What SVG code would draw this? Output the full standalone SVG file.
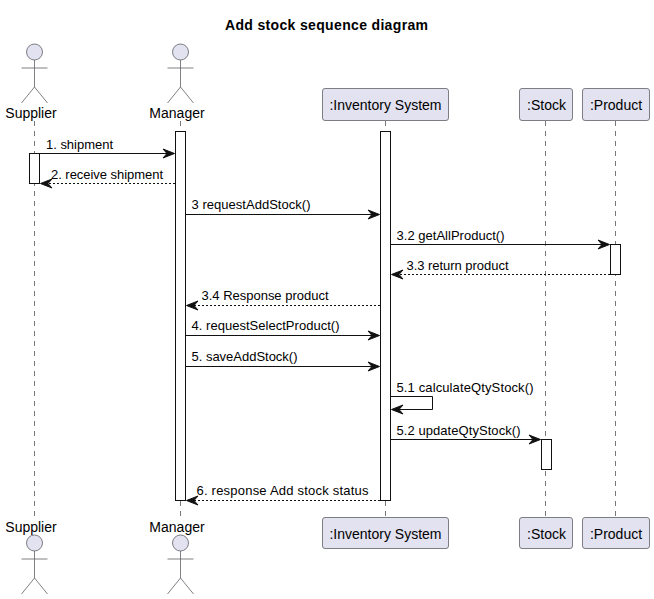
<svg xmlns="http://www.w3.org/2000/svg" width="654" height="599" viewBox="0 0 654 599">
<style>
text{font-family:"Liberation Sans",Arial,sans-serif;font-size:13px;fill:#000}
.pl{font-size:14px}
.title{font-size:14px;font-weight:bold}
.box{fill:#E2E2F0;stroke:#5F5F66;stroke-width:.8}
.head{fill:#E2E2F0;stroke:#5F5F66;stroke-width:.8}
.body{fill:none;stroke:#5F5F66;stroke-width:.8}
.life{stroke:#555;stroke-width:.8;stroke-dasharray:5 5;fill:none}
.act{fill:#fff;stroke:#111;stroke-width:1}
.msg{stroke:#111;stroke-width:1;fill:none}
.dash{stroke-dasharray:2 2}
.tip{fill:#111;stroke:#111;stroke-width:1}
</style>
<defs>
<g id="actor"><circle class="head" cx="0" cy="8" r="8"/><path class="body" d="M0 16V43M-13 24H13M0 43L-13 59M0 43L13 59"/></g>
</defs>
<rect width="654" height="599" fill="#fff"/>
<text class="title" x="225" y="30" textLength="203">Add stock sequence diagram</text>
<g id="lifelines">
<path class="life" d="M34.500 121V518"/>
<path class="life" d="M180.500 121V518"/>
<path class="life" d="M385.500 121V518"/>
<path class="life" d="M545.500 121V518"/>
<path class="life" d="M615.500 121V518"/>
</g>
<g id="node-supplier">
<use href="#actor" x="34.500" y="44"/>
<text class="pl" x="31" y="118" text-anchor="middle">Supplier</text>
<text class="pl" x="31" y="532" text-anchor="middle">Supplier</text>
<use href="#actor" x="34.500" y="535"/>
<rect class="act" x="29.500" y="153.500" width="10" height="30"/>
</g>
<g id="node-manager">
<use href="#actor" x="180.500" y="44"/>
<text class="pl" x="177" y="118" text-anchor="middle">Manager</text>
<text class="pl" x="177" y="532" text-anchor="middle">Manager</text>
<use href="#actor" x="180.500" y="535"/>
<rect class="act" x="175.500" y="131.500" width="10" height="369"/>
</g>
<g id="node-inventory">
<rect class="box" x="322.500" y="88.500" width="126" height="32" rx="2.500"/>
<text class="pl" x="385.500" y="110" text-anchor="middle">:Inventory System</text>
<rect class="box" x="322.500" y="517.500" width="126" height="31" rx="2.500"/>
<text class="pl" x="385.500" y="539" text-anchor="middle">:Inventory System</text>
<rect class="act" x="380.500" y="131.500" width="10" height="369"/>
</g>
<g id="node-stock">
<rect class="box" x="519.500" y="88.500" width="53" height="32" rx="2.500"/>
<text class="pl" x="546.500" y="110" text-anchor="middle">:Stock</text>
<rect class="box" x="519.500" y="517.500" width="53" height="31" rx="2.500"/>
<text class="pl" x="546.500" y="539" text-anchor="middle">:Stock</text>
<rect class="act" x="541.500" y="439.500" width="10" height="30"/>
</g>
<g id="node-product">
<rect class="box" x="582.500" y="88.500" width="67" height="32" rx="2.500"/>
<text class="pl" x="616" y="110" text-anchor="middle">:Product</text>
<rect class="box" x="582.500" y="517.500" width="67" height="31" rx="2.500"/>
<text class="pl" x="616" y="539" text-anchor="middle">:Product</text>
<rect class="act" x="610.500" y="244.500" width="10" height="30"/>
</g>
<g id="connectors">
<path class="msg" d="M39.500 153.500H174"/><path class="tip" d="M174.500 153.500L163 149L167 153.500L163 158Z"/>
<path class="msg dash" d="M175 183.500H41"/><path class="tip" d="M40.500 183.500L52 179L48 183.500L52 188Z"/>
<path class="msg" d="M185.500 214.500H379"/><path class="tip" d="M379.500 214.500L368 210L372 214.500L368 219Z"/>
<path class="msg" d="M390.500 244.500H609"/><path class="tip" d="M609.500 244.500L598 240L602 244.500L598 249Z"/>
<path class="msg dash" d="M610 274.500H392"/><path class="tip" d="M391.500 274.500L403 270L399 274.500L403 279Z"/>
<path class="msg dash" d="M380 305.500H187"/><path class="tip" d="M186.500 305.500L198 301L194 305.500L198 310Z"/>
<path class="msg" d="M185.500 335.500H379"/><path class="tip" d="M379.500 335.500L368 331L372 335.500L368 340Z"/>
<path class="msg" d="M185.500 366.500H379"/><path class="tip" d="M379.500 366.500L368 362L372 366.500L368 371Z"/>
<path class="msg" d="M390.500 396.500H432.500V409.500H392"/><path class="tip" d="M391.500 409.500L403 405L399 409.500L403 414Z"/>
<path class="msg" d="M390.500 439.500H540"/><path class="tip" d="M540.500 439.500L529 435L533 439.500L529 444Z"/>
<path class="msg dash" d="M380 500.500H187"/><path class="tip" d="M186.500 500.500L198 496L194 500.500L198 505Z"/>
</g>
<g id="labels">
<text x="46" y="148.500" textLength="67">1. shipment</text>
<text x="51" y="179" textLength="112">2. receive shipment</text>
<text x="191.500" y="208.500" textLength="119">3 requestAddStock()</text>
<text x="396.500" y="240" textLength="108">3.2 getAllProduct()</text>
<text x="406.500" y="270" textLength="102">3.3 return product</text>
<text x="201.500" y="300" textLength="127">3.4 Response product</text>
<text x="191.500" y="330" textLength="148">4. requestSelectProduct()</text>
<text x="191.500" y="361" textLength="106">5. saveAddStock()</text>
<text x="396.500" y="392" textLength="137">5.1 calculateQtyStock()</text>
<text x="396.500" y="435" textLength="124">5.2 updateQtyStock()</text>
<text x="196.500" y="494.500" textLength="172">6. response Add stock status</text>
</g>
</svg>
